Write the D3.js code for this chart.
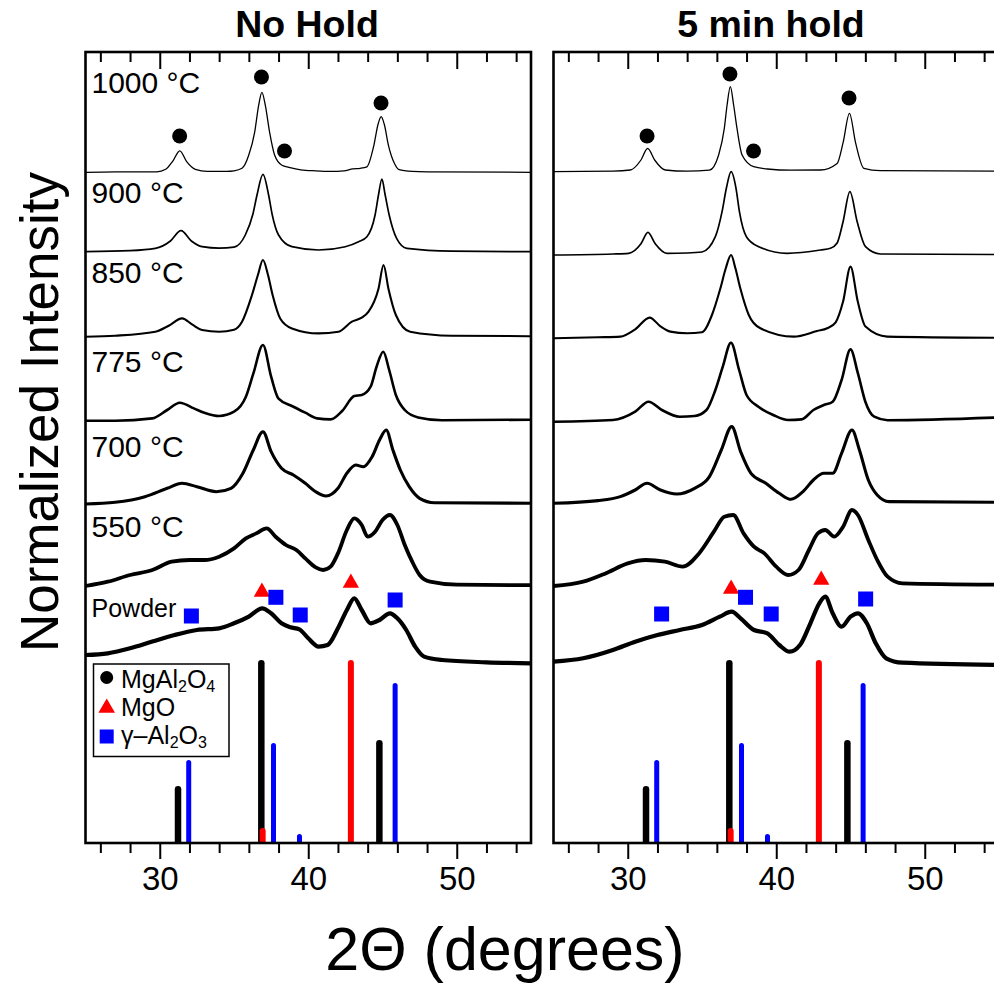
<!DOCTYPE html>
<html>
<head>
<meta charset="utf-8">
<script src="https://cdn.jsdelivr.net/npm/d3@7"></script>
<style>
  body { margin: 0; background: #fff; }
  text { font-family: "Liberation Sans", Arial, sans-serif; fill: #000; }
</style>
</head>
<body>
<svg id="chart" width="994" height="983"></svg>
<script>
// ---- data (2theta in degrees, intensity in arbitrary units above each trace's baseline)
const labels = ['1000 °C', '900 °C', '850 °C', '775 °C', '700 °C', '550 °C', 'Powder']
const majorTicks = [30, 40, 50]
const minorTicks = [26, 28, 32, 34, 36, 38, 42, 44, 46, 48, 52, 54]

// vertical offset of every trace
const offsetsNoHold = [670.7, 591.3, 506.3, 421.3, 339, 256.3, 179.7]
const offsetsHold = [671.3, 588, 504.7, 421.3, 339.7, 256.3, 178]

const noHold1000 = [[25,0],[27,0.5],[29,0.5],[29.8,0.5],[30.4,3],[30.87,11],[31.35,21.5],[31.8,11],[32.4,3],[33.2,1],[34.5,1],[35,1.5],[35.54,4],[35.99,17],[36.39,40],[36.66,67],[36.88,80],[37.11,67],[37.4,40],[37.74,17],[38.23,7],[38.7,5],[39.5,2.5],[40.5,1.5],[41.5,1],[42.4,1.5],[43,3.5],[43.5,4],[43.95,5.5],[44.42,27],[44.7,48],[44.91,55.7],[45.12,48],[45.4,27],[45.8,9],[46.08,3],[47,1],[48,0.5],[55,0]]
const noHold900 = [[25,0],[28,1],[29.7,3.3],[30.72,10.7],[31.43,21],[32.13,10.7],[32.85,5],[34,3.5],[35,4.5],[35.76,16.7],[36.28,38],[36.55,56.7],[36.95,77.3],[37.33,56.7],[37.56,38],[38,16.7],[38.9,5],[40.7,1.7],[42.49,5],[43.39,10],[43.95,15],[44.5,36.7],[44.73,56.7],[44.96,72.7],[45.18,56.7],[45.45,36.7],[45.96,13],[46.64,3.3],[49.66,0.5],[55,0]]
const noHold850 = [[25,0],[27,1],[29.7,5],[30.6,11],[31.5,18.3],[32.2,12],[32.85,6.7],[34,5],[35,7],[35.54,15],[36.21,41.7],[36.61,61.7],[36.95,76.7],[37.29,61.7],[37.6,41.7],[38.12,18],[38.9,8.3],[40.7,3.3],[42.04,5],[42.94,15],[43.6,19],[44.06,25],[44.73,48],[45.07,71.7],[45.4,48],[45.9,21.7],[46.86,5],[49.66,1],[55,0.5]]
const noHold775 = [[25,1],[27,1],[29.5,3.3],[30.5,11.7],[31.35,19],[32.3,13.3],[33,9],[34,5.7],[35,10],[35.8,25],[36.3,48],[36.95,76.7],[37.5,45],[38,23],[38.9,15.7],[39.8,9],[40.6,3.3],[41.5,2.3],[42.3,11],[43.1,25.7],[43.6,26.7],[44.2,35],[44.6,55],[45.05,70],[45.45,51.7],[45.9,26.7],[46.5,11.7],[47.4,4.3],[49,1.5],[55,2]]
const noHold700 = [[25,0],[27,1.7],[29,7.3],[30.5,15.7],[31.5,20.7],[32.5,17.3],[33.8,12.3],[34.8,15.7],[35.6,30.7],[36.3,54],[36.95,72.3],[37.5,52.3],[38.2,35.7],[39,29],[39.8,20.7],[40.5,12.3],[41.2,8],[42,15.7],[42.6,30.7],[43.2,39],[43.7,37.3],[44.3,47.3],[44.8,64],[45.25,74],[45.7,54],[46.2,34],[46.8,17.3],[47.5,5.7],[48.5,1.3],[55,0.7]]
const noHold550 = [[25,0.7],[26.5,5],[28,11.7],[29.5,16.7],[30.8,25],[32,26.7],[33,26.7],[34,30],[35,38.3],[35.8,48.3],[36.5,53.3],[37.2,58.3],[37.8,50],[38.5,41.7],[39.2,36.7],[39.8,28.3],[40.5,19.3],[41,16.7],[41.5,20],[42,33.3],[42.6,56.7],[43.1,68.3],[43.6,61.7],[44,50],[44.5,55],[45,66.7],[45.5,71.7],[46,61.7],[46.5,41.7],[47,25],[47.5,11.7],[48.2,5],[50,2],[55,1.5]]
const noHoldPowder = [[25,8.3],[26.5,10],[28,15],[29.5,21.7],[31,28.3],[32.5,33.3],[34,35],[35,40],[36,46.7],[36.9,55],[37.5,50],[38.2,40],[38.8,36],[39.4,34],[40,25],[40.7,16.7],[41.3,18.3],[42,35],[42.6,53.3],[43.1,65],[43.6,53.3],[44.2,40],[44.8,43.3],[45.5,50],[46,45],[46.6,33.3],[47.2,16.7],[47.8,6.7],[49,3.3],[52,1],[55,0]]

const hold1000 = [[25,0],[29,0.5],[30.17,1.7],[30.89,11.7],[31.34,23.3],[31.81,11.7],[32.53,1.7],[34,0.5],[35.5,1.5],[36.12,16.7],[36.5,43],[36.69,66.7],[36.91,85],[37.13,66.7],[37.36,43],[37.7,16.7],[38.48,5],[39.4,2.7],[41,1.5],[42.98,1.7],[44.1,8.3],[44.5,29],[44.93,58.3],[45.34,29],[45.9,3.3],[47,1],[55,0.5]]
const hold900 = [[25,0],[29,1],[30.06,1.7],[30.89,11.3],[31.36,22.7],[31.85,11.3],[32.64,1.7],[34,2],[35,3],[35.9,18.3],[36.35,43.3],[36.64,66.7],[36.96,83.3],[37.29,66.7],[37.52,43.3],[37.99,18.3],[38.82,8.3],[40.73,1.7],[42.98,5],[43.65,6.7],[44.1,12],[44.5,33.3],[44.96,63.3],[45.45,33.3],[46.01,8.3],[47.02,1],[55,0.5]]
const hold850 = [[25,0],[28,1],[29.5,1.7],[30.5,9],[31.47,20.7],[32.2,12],[32.87,6.7],[34,5],[35,6],[35.67,23.3],[36.24,50],[36.6,70],[36.96,83.3],[37.25,70],[37.58,50],[38.15,23.3],[38.93,10],[41.18,1.7],[42.75,7.3],[43.43,10],[44,16],[44.5,36.7],[45,71.7],[45.49,36.7],[46.01,11.7],[47.47,1.7],[55,0.5]]
const hold775 = [[25,0],[29,1.7],[30.5,10],[31.4,20],[32.3,11.7],[33.5,5],[34.5,5.7],[35.3,11.7],[35.9,31.7],[36.4,55],[36.95,79],[37.5,51.7],[38,26.7],[38.8,15],[39.8,6.7],[40.8,1.7],[41.7,2.3],[42.5,11.7],[43.2,16.7],[43.8,20],[44.4,41.7],[45,72.3],[45.5,48.3],[46,20],[46.6,5],[47.5,1.5],[55,4.3]]
const hold700 = [[25,0],[28,2.7],[29.5,6.7],[30.5,13.3],[31.3,20],[32.2,13.3],[33.3,9.3],[34.5,15],[35.5,26.7],[36.3,53.3],[37,76.7],[37.6,51.7],[38.3,30],[39.3,20],[40.2,10],[41,4],[41.8,11.7],[42.5,23.3],[43.2,30],[43.8,30],[44.4,50],[45.1,73.3],[45.6,53.3],[46.2,23.3],[46.8,8.3],[47.6,1.7],[55,1]]
const hold550 = [[25,0.7],[27,5],[28.5,13.3],[30,23.3],[31.2,26.7],[32.5,25],[33.7,20],[34.8,33.3],[35.8,55],[36.5,70],[37.1,71.7],[37.8,53.3],[38.5,40],[39.2,33.3],[40,20],[40.8,11.7],[41.5,16.7],[42.2,36.7],[42.8,53.3],[43.3,56.7],[43.9,50],[44.5,60],[45.1,76.7],[45.5,71.7],[46.2,46.7],[46.8,26.7],[47.5,10],[48.5,3.3],[55,2]]
const holdPowder = [[25,3.3],[27,6.7],[29,15],[30.5,23.3],[32,30],[33.5,35],[35,40],[36.2,48.3],[37,53.3],[37.6,46.7],[38.5,35],[39.4,31.7],[40.2,20],[40.9,13.3],[41.6,20],[42.3,41.7],[42.9,61.7],[43.3,68.3],[43.8,51.7],[44.4,38.3],[45,48.3],[45.5,51.7],[46.1,41.7],[46.7,21.7],[47.4,6.7],[48.5,2.3],[55,0]]

// reference stick patterns
const spinelPos = [31.23, 36.84, 44.79]
const spinelInt = [57, 183, 103]
const mgoPos = [36.93, 42.87]
const mgoInt = [15, 183]
const aluminaPos = [31.95, 37.66, 39.41, 45.85]
const aluminaInt = [83, 100, 9, 160]

// phase markers [2theta, level]
const dotsNoHold = [[36.85, 766], [44.9, 740], [31.34, 707], [38.4, 692]]
const dotsHold = [[36.88, 769], [44.9, 745], [31.3, 707], [38.47, 692]]
const trisNoHold = [[36.88, 251], [42.87, 260]]
const trisHold = [[36.96, 254], [43.03, 263]]
const squaresNoHold = [[37.82, 245.7], [32.13, 227], [39.46, 228], [45.85, 243]]
const squaresHold = [[37.93, 245.7], [32.28, 229], [39.66, 229], [46.02, 244]]

const lineWidths = [1.3, 1.7, 2.1, 2.6, 3.1, 3.8, 4.2]

const svg = d3.select('#chart')
svg.append('rect').attr('width', 994).attr('height', 983).attr('fill', '#fff')

const y = d3.scaleLinear().domain([0, 791]).range([843, 52])

const panel = (name, x0, x1, curves, offsets, dots, tris, squares) => {
  const x = d3.scaleLinear().domain([25, 55]).range([x0, x1])
  const g = svg.append('g').attr('id', name)

  g.append('clipPath').attr('id', 'clip-' + name)
    .append('rect').attr('x', x0).attr('y', y(791)).attr('width', x1 - x0).attr('height', y(0) - y(791))
  const plot = g.append('g').attr('clip-path', `url(#clip-${name})`)

  // sticks
  const sticks = (pos, inten, color, w) => {
    plot.selectAll(null).data(pos).enter().append('line')
      .attr('x1', d => x(d)).attr('x2', d => x(d))
      .attr('y1', y(-5)).attr('y2', (d, i) => y(inten[i]) + w / 2)
      .attr('stroke', color).attr('stroke-width', w).attr('stroke-linecap', 'round')
  }
  sticks(spinelPos, spinelInt, '#000', 6.5)
  sticks(mgoPos, mgoInt, '#ff0000', 6)
  sticks(aluminaPos, aluminaInt, '#0000ff', 5)

  // traces
  const line = d3.line().x(d => x(d[0])).y(d => y(d[1])).curve(d3.curveMonotoneX)
  curves.forEach((c, i) => {
    plot.append('path')
      .datum(c.map(d => [d[0], d[1] + offsets[i]]))
      .attr('d', line)
      .attr('fill', 'none')
      .attr('stroke', '#000')
      .attr('stroke-width', lineWidths[i])
      .attr('stroke-linejoin', 'round')
  })

  // markers
  plot.selectAll('.dot').data(dots).enter().append('circle')
    .attr('cx', d => x(d[0])).attr('cy', d => y(d[1])).attr('r', 7.5).attr('fill', '#000')
  plot.selectAll('.tri').data(tris).enter().append('path')
    .attr('d', d3.symbol(d3.symbolTriangle, 115))
    .attr('transform', d => `translate(${x(d[0])},${y(d[1])})`)
    .attr('fill', '#ff0000')
  plot.selectAll('.sq').data(squares).enter().append('rect')
    .attr('x', d => x(d[0]) - 7.5).attr('y', d => y(d[1]) - 7.5)
    .attr('width', 15).attr('height', 15).attr('fill', '#0000ff')

  // frame and ticks
  g.append('rect').attr('x', x0).attr('y', y(791)).attr('width', x1 - x0).attr('height', y(0) - y(791))
    .attr('fill', 'none').attr('stroke', '#000').attr('stroke-width', 2.6)

  const tickAxis = (vals, size, yPos, withText) => {
    const ax = d3.axisBottom(x).tickValues(vals).tickSize(size).tickPadding(8)
    if (!withText) ax.tickFormat('')
    const a = g.append('g').attr('transform', `translate(0,${yPos})`).call(ax)
    a.select('.domain').remove()
    a.selectAll('line').attr('stroke', '#000').attr('stroke-width', 2)
    a.selectAll('text').attr('font-size', 33).attr('font-family', '"Liberation Sans", Arial, sans-serif')
  }
  tickAxis(minorTicks, 10, y(0), false)
  tickAxis(majorTicks, 16, y(0), true)
  tickAxis(minorTicks, 10, y(791), false)
  tickAxis(majorTicks, 17, y(791), false)
  return g
}

const left = panel('nohold', 85.5, 531,
  [noHold1000, noHold900, noHold850, noHold775, noHold700, noHold550, noHoldPowder],
  offsetsNoHold, dotsNoHold, trisNoHold, squaresNoHold)
const right = panel('hold', 553.5, 999,
  [hold1000, hold900, hold850, hold775, hold700, hold550, holdPowder],
  offsetsHold, dotsHold, trisHold, squaresHold)

// panel titles
svg.append('text').attr('x', 307).attr('y', 37).attr('text-anchor', 'middle')
  .attr('font-size', 37.5).attr('font-weight', 'bold').text('No Hold')
svg.append('text').attr('x', 771).attr('y', 37).attr('text-anchor', 'middle')
  .attr('font-size', 37.5).attr('font-weight', 'bold').text('5 min hold')

// temperature labels
const labelY = [93.3, 203.3, 283.3, 371.7, 456.7, 536.7, 616.7]
left.selectAll('.templabel').data(labels).enter().append('text')
  .attr('x', 91.5).attr('y', (d, i) => labelY[i])
  .attr('font-size', (d, i) => i === 6 ? 25 : 30)
  .text(d => d)

// legend
const lg = left.append('g')
lg.append('rect').attr('x', 93.5).attr('y', 664).attr('width', 135.5).attr('height', 92.5)
  .attr('fill', '#fff').attr('stroke', '#000').attr('stroke-width', 1.5)
lg.append('circle').attr('cx', 106.7).attr('cy', 677.5).attr('r', 6.5).attr('fill', '#000')
lg.append('path').attr('d', d3.symbol(d3.symbolTriangle, 120)).attr('transform', 'translate(106.7,708)').attr('fill', '#ff0000')
lg.append('rect').attr('x', 99.7).attr('y', 729.5).attr('width', 14).attr('height', 14).attr('fill', '#0000ff')

const legendText = (yPos, parts) => {
  const t = lg.append('text').attr('x', 121).attr('y', yPos).attr('font-size', 25)
  parts.forEach(p => {
    t.append('tspan').attr('font-size', p.sub ? 16 : 25).attr('dy', p.dy || 0).text(p.t)
  })
}
legendText(688, [{ t: 'MgAl' }, { t: '2', sub: true, dy: 4 }, { t: 'O', dy: -4 }, { t: '4', sub: true, dy: 4 }])
legendText(716, [{ t: 'MgO' }])
legendText(744, [{ t: 'γ–Al' }, { t: '2', sub: true, dy: 4 }, { t: 'O', dy: -4 }, { t: '3', sub: true, dy: 4 }])

// axis titles
svg.append('text').attr('transform', 'translate(58,412) rotate(-90)').attr('text-anchor', 'middle')
  .attr('font-size', 53).text('Normalized Intensity')
svg.append('text').attr('x', 505).attr('y', 970).attr('text-anchor', 'middle')
  .attr('font-size', 61).text('2Θ (degrees)')
</script>
</body>
</html>
